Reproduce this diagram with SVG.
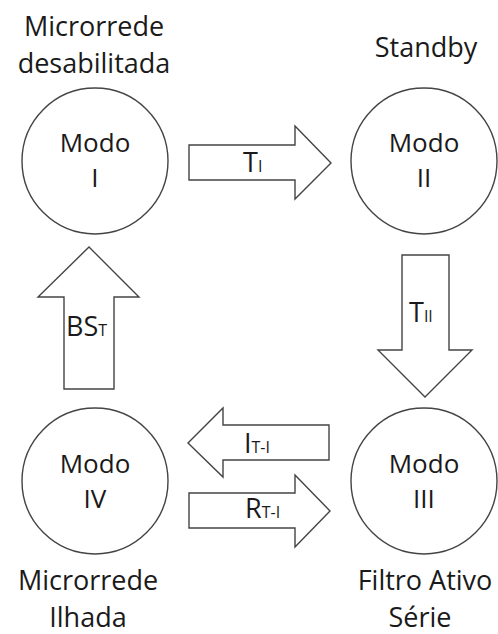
<svg xmlns="http://www.w3.org/2000/svg" width="498" height="634" viewBox="0 0 498 634">
<style>
.c{fill:#fff;stroke:#444;stroke-width:1.4}
.a{fill:#fff;stroke:#444;stroke-width:1.4;stroke-linejoin:miter}
.t{font-family:"Open Sans","Liberation Sans",sans-serif;fill:#1a1a1a;text-anchor:middle}
.big{font-size:27px}
.m{font-size:26px}
.l{font-family:"Open Sans","Liberation Sans",sans-serif;fill:#1a1a1a;font-size:27px}
.s{font-size:16px}
</style>
<rect width="498" height="634" fill="#fff"/>
<g id="node-I">
<circle class="c" cx="95" cy="161" r="73"/>
<text class="t m" x="95" y="152">Modo</text>
<text class="t m" x="95" y="187">I</text>
<text class="t big" x="94" y="36">Microrrede</text>
<text class="t big" x="94" y="73">desabilitada</text>
</g>
<g id="node-II">
<circle class="c" cx="424" cy="161" r="73"/>
<text class="t m" x="424" y="152">Modo</text>
<text class="t m" x="424" y="187">II</text>
<text class="t big" x="426" y="57">Standby</text>
</g>
<g id="node-III">
<circle class="c" cx="424" cy="481" r="73"/>
<text class="t m" x="424" y="473">Modo</text>
<text class="t m" x="424" y="508">III</text>
<text class="t big" x="425" y="590">Filtro Ativo</text>
<text class="t big" x="420" y="627">Série</text>
</g>
<g id="node-IV">
<circle class="c" cx="95" cy="481" r="73"/>
<text class="t m" x="95" y="473">Modo</text>
<text class="t m" x="95" y="508">IV</text>
<text class="t big" x="88" y="590">Microrrede</text>
<text class="t big" x="88" y="627">Ilhada</text>
</g>
<g id="connectors">
<g id="arrow-TI">
<polygon class="a" points="189,145 295,145 295,126 331,163 295,199 295,180 189,180"/>
<text class="l" x="243" y="172">T<tspan class="s">I</tspan></text>
</g>
<g id="arrow-TII">
<polygon class="a" points="402,255 449,255 449,350 472,350 425,397 378,350 402,350"/>
<text class="l" x="409" y="322">T<tspan class="s">II</tspan></text>
</g>
<g id="arrow-BST">
<polygon class="a" points="64,389 114,389 114,297 139,297 89,247 38,297 64,297"/>
<text class="l" x="66" y="336">BS<tspan class="s">T</tspan></text>
</g>
<g id="arrow-IT-I">
<polygon class="a" points="329,425 329,460 223,460 223,477 188,443 223,408 223,425"/>
<text class="l" x="244" y="453">I<tspan class="s">T-I</tspan></text>
</g>
<g id="arrow-RT-I">
<polygon class="a" points="189,493 295,493 295,475 330,511 295,547 295,528 189,528"/>
<text class="l" x="245" y="518">R<tspan class="s">T-I</tspan></text>
</g>
</g>
</svg>
